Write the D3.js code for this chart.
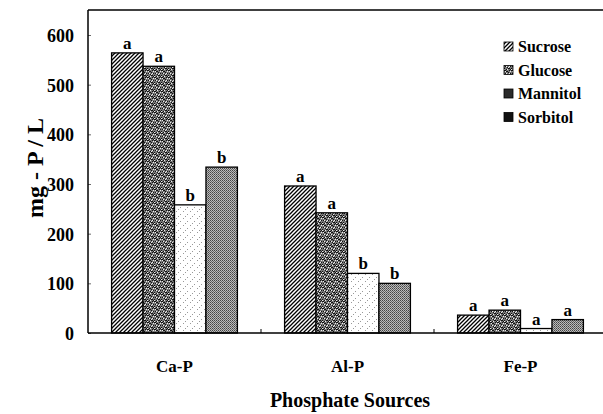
<!DOCTYPE html>
<html><head><meta charset="utf-8">
<script src="https://cdn.jsdelivr.net/npm/d3@7"></script>
<style>
html,body{margin:0;padding:0;background:#fff;}
svg{display:block;}
svg text{font-family:"Liberation Serif","Times New Roman","DejaVu Serif",serif !important;font-weight:bold;}
</style></head>
<body><svg id="c" width="603" height="414"></svg>
<script>
const categories = ["Ca-P", "Al-P", "Fe-P"];
const seriesNames = ["Sucrose", "Glucose", "Mannitol", "Sorbitol"];
const sucrose  = [564, 296, 36];
const glucose  = [537, 242, 46];
const mannitol = [258, 120, 9];
const sorbitol = [334, 100, 27];
const sucroseLetters  = ["a", "a", "a"];
const glucoseLetters  = ["a", "a", "a"];
const mannitolLetters = ["b", "b", "a"];
const sorbitolLetters = ["b", "b", "a"];
const yTicks = [0, 100, 200, 300, 400, 500, 600];

const values = [sucrose, glucose, mannitol, sorbitol];
const letters = [sucroseLetters, glucoseLetters, mannitolLetters, sorbitolLetters];

const svg = d3.select("#c");
const defs = svg.append("defs");

// Patterns
const p1 = defs.append("pattern").attr("id","pSuc").attr("patternUnits","userSpaceOnUse")
  .attr("width",4).attr("height",4);
p1.append("rect").attr("width",4).attr("height",4).attr("fill","#fff");
p1.append("path").attr("d","M-1,1 l2,-2 M0,4 l4,-4 M3,5 l2,-2").attr("stroke","#000").attr("stroke-width",1.3);

const p2 = defs.append("pattern").attr("id","pGlu").attr("patternUnits","userSpaceOnUse")
  .attr("width",7).attr("height",7);
p2.append("rect").attr("width",7).attr("height",7).attr("fill","#777");
[[0,0],[2,1],[5,0],[4,2],[1,3],[6,3],[3,4],[0,5],[5,5],[2,6],[3,1],[6,6],[1,0],[4,5]]
  .forEach(([a,b])=>p2.append("rect").attr("x",a).attr("y",b).attr("width",1).attr("height",1).attr("fill","#111"));
[[1,1],[4,4],[2,3],[6,1],[0,6],[5,3],[3,6]]
  .forEach(([a,b])=>p2.append("rect").attr("x",a).attr("y",b).attr("width",1).attr("height",1).attr("fill","#eee"));

const p3 = defs.append("pattern").attr("id","pMan").attr("patternUnits","userSpaceOnUse")
  .attr("width",7).attr("height",7);
p3.append("rect").attr("width",7).attr("height",7).attr("fill","#fff");
[[1,1],[5,4],[3,6]].forEach(([a,b])=>p3.append("rect").attr("x",a).attr("y",b).attr("width",1).attr("height",1).attr("fill","#999"));

const p4 = defs.append("pattern").attr("id","pSor").attr("patternUnits","userSpaceOnUse")
  .attr("width",2).attr("height",2);
p4.append("rect").attr("width",2).attr("height",2).attr("fill","#bbb");
p4.append("rect").attr("x",0).attr("y",0).attr("width",1).attr("height",1).attr("fill","#444");
p4.append("rect").attr("x",1).attr("y",1).attr("width",1).attr("height",1).attr("fill","#666");

const fills = ["url(#pSuc)","url(#pGlu)","url(#pMan)","url(#pSor)"];
const legendFills = ["url(#pSuc)","url(#pGlu)","#2a2a2a","#111"];

const leftX = 88, bottomY = 333, topY = 10;
const x0 = d3.scaleBand().domain(categories).range([leftX, 607]).padding(0);
const x1 = d3.scaleBand().domain(seriesNames).range([0, x0.bandwidth()]).paddingInner(0).paddingOuter(0.75);
const y = d3.scaleLinear().domain([0, 600]).range([bottomY, 35]);

// Bars
const g = svg.append("g");
categories.forEach((c, ci) => {
  seriesNames.forEach((s, si) => {
    const v = values[si][ci];
    g.append("rect")
      .attr("x", x0(c) + x1(s))
      .attr("y", y(v))
      .attr("width", x1.bandwidth())
      .attr("height", y(0) - y(v))
      .attr("fill", fills[si])
      .attr("stroke", "#000").attr("stroke-width", 1.3);
    g.append("text")
      .attr("x", x0(c) + x1(s) + x1.bandwidth()/2)
      .attr("y", y(v) - 4)
      .attr("text-anchor", "middle")
      .attr("font-size", 17)
      .text(letters[si][ci]);
  });
});

// Y axis
const yAxis = svg.append("g").attr("transform", `translate(${leftX},0)`)
  .call(d3.axisLeft(y).tickValues(yTicks).tickSizeInner(-3).tickSizeOuter(0).tickPadding(14));
yAxis.select(".domain").remove();
yAxis.selectAll("text").attr("font-size", 18).attr("fill","#000").attr("dy","0.36em");
yAxis.selectAll(".tick line").attr("stroke","#444").attr("stroke-width",0.8);

// Frame
svg.append("line").attr("x1", leftX).attr("x2", leftX).attr("y1", topY).attr("y2", bottomY).attr("stroke","#000").attr("stroke-width",1.5);
svg.append("line").attr("x1", leftX).attr("x2", 603).attr("y1", topY).attr("y2", topY).attr("stroke","#000").attr("stroke-width",1.5);

// X axis
const xAxis = svg.append("g").attr("transform", `translate(0,${bottomY})`)
  .call(d3.axisBottom(x0).tickSize(0).tickPadding(27));
xAxis.select(".domain").attr("d", `M${leftX},0H603`).attr("stroke","#000").attr("stroke-width",1.5);
xAxis.selectAll("text").attr("font-size", 17).attr("fill","#000");
categories.slice(0, 2).forEach(c => {
  xAxis.append("line").attr("x1", x0(c) + x0.step()).attr("x2", x0(c) + x0.step())
    .attr("y1", 0).attr("y2", -4).attr("stroke", "#000").attr("stroke-width", 1);
});

// Axis titles
svg.append("text").attr("transform", "translate(43,168) rotate(-90)")
  .attr("text-anchor", "middle").attr("font-size", 24).text("mg - P / L");
svg.append("text").attr("x", 350).attr("y", 407)
  .attr("text-anchor", "middle").attr("font-size", 20).text("Phosphate Sources");

// Legend
const lg = svg.append("g");
seriesNames.forEach((s, i) => {
  const yy = 47 + i * 23.5;
  lg.append("rect").attr("x", 504).attr("y", yy - 5).attr("width", 9).attr("height", 9)
    .attr("fill", legendFills[i]).attr("stroke", "#000").attr("stroke-width", 0.8);
  lg.append("text").attr("x", 518).attr("y", yy + 5).attr("font-size", 16).text(s);
});
</script></body></html>
